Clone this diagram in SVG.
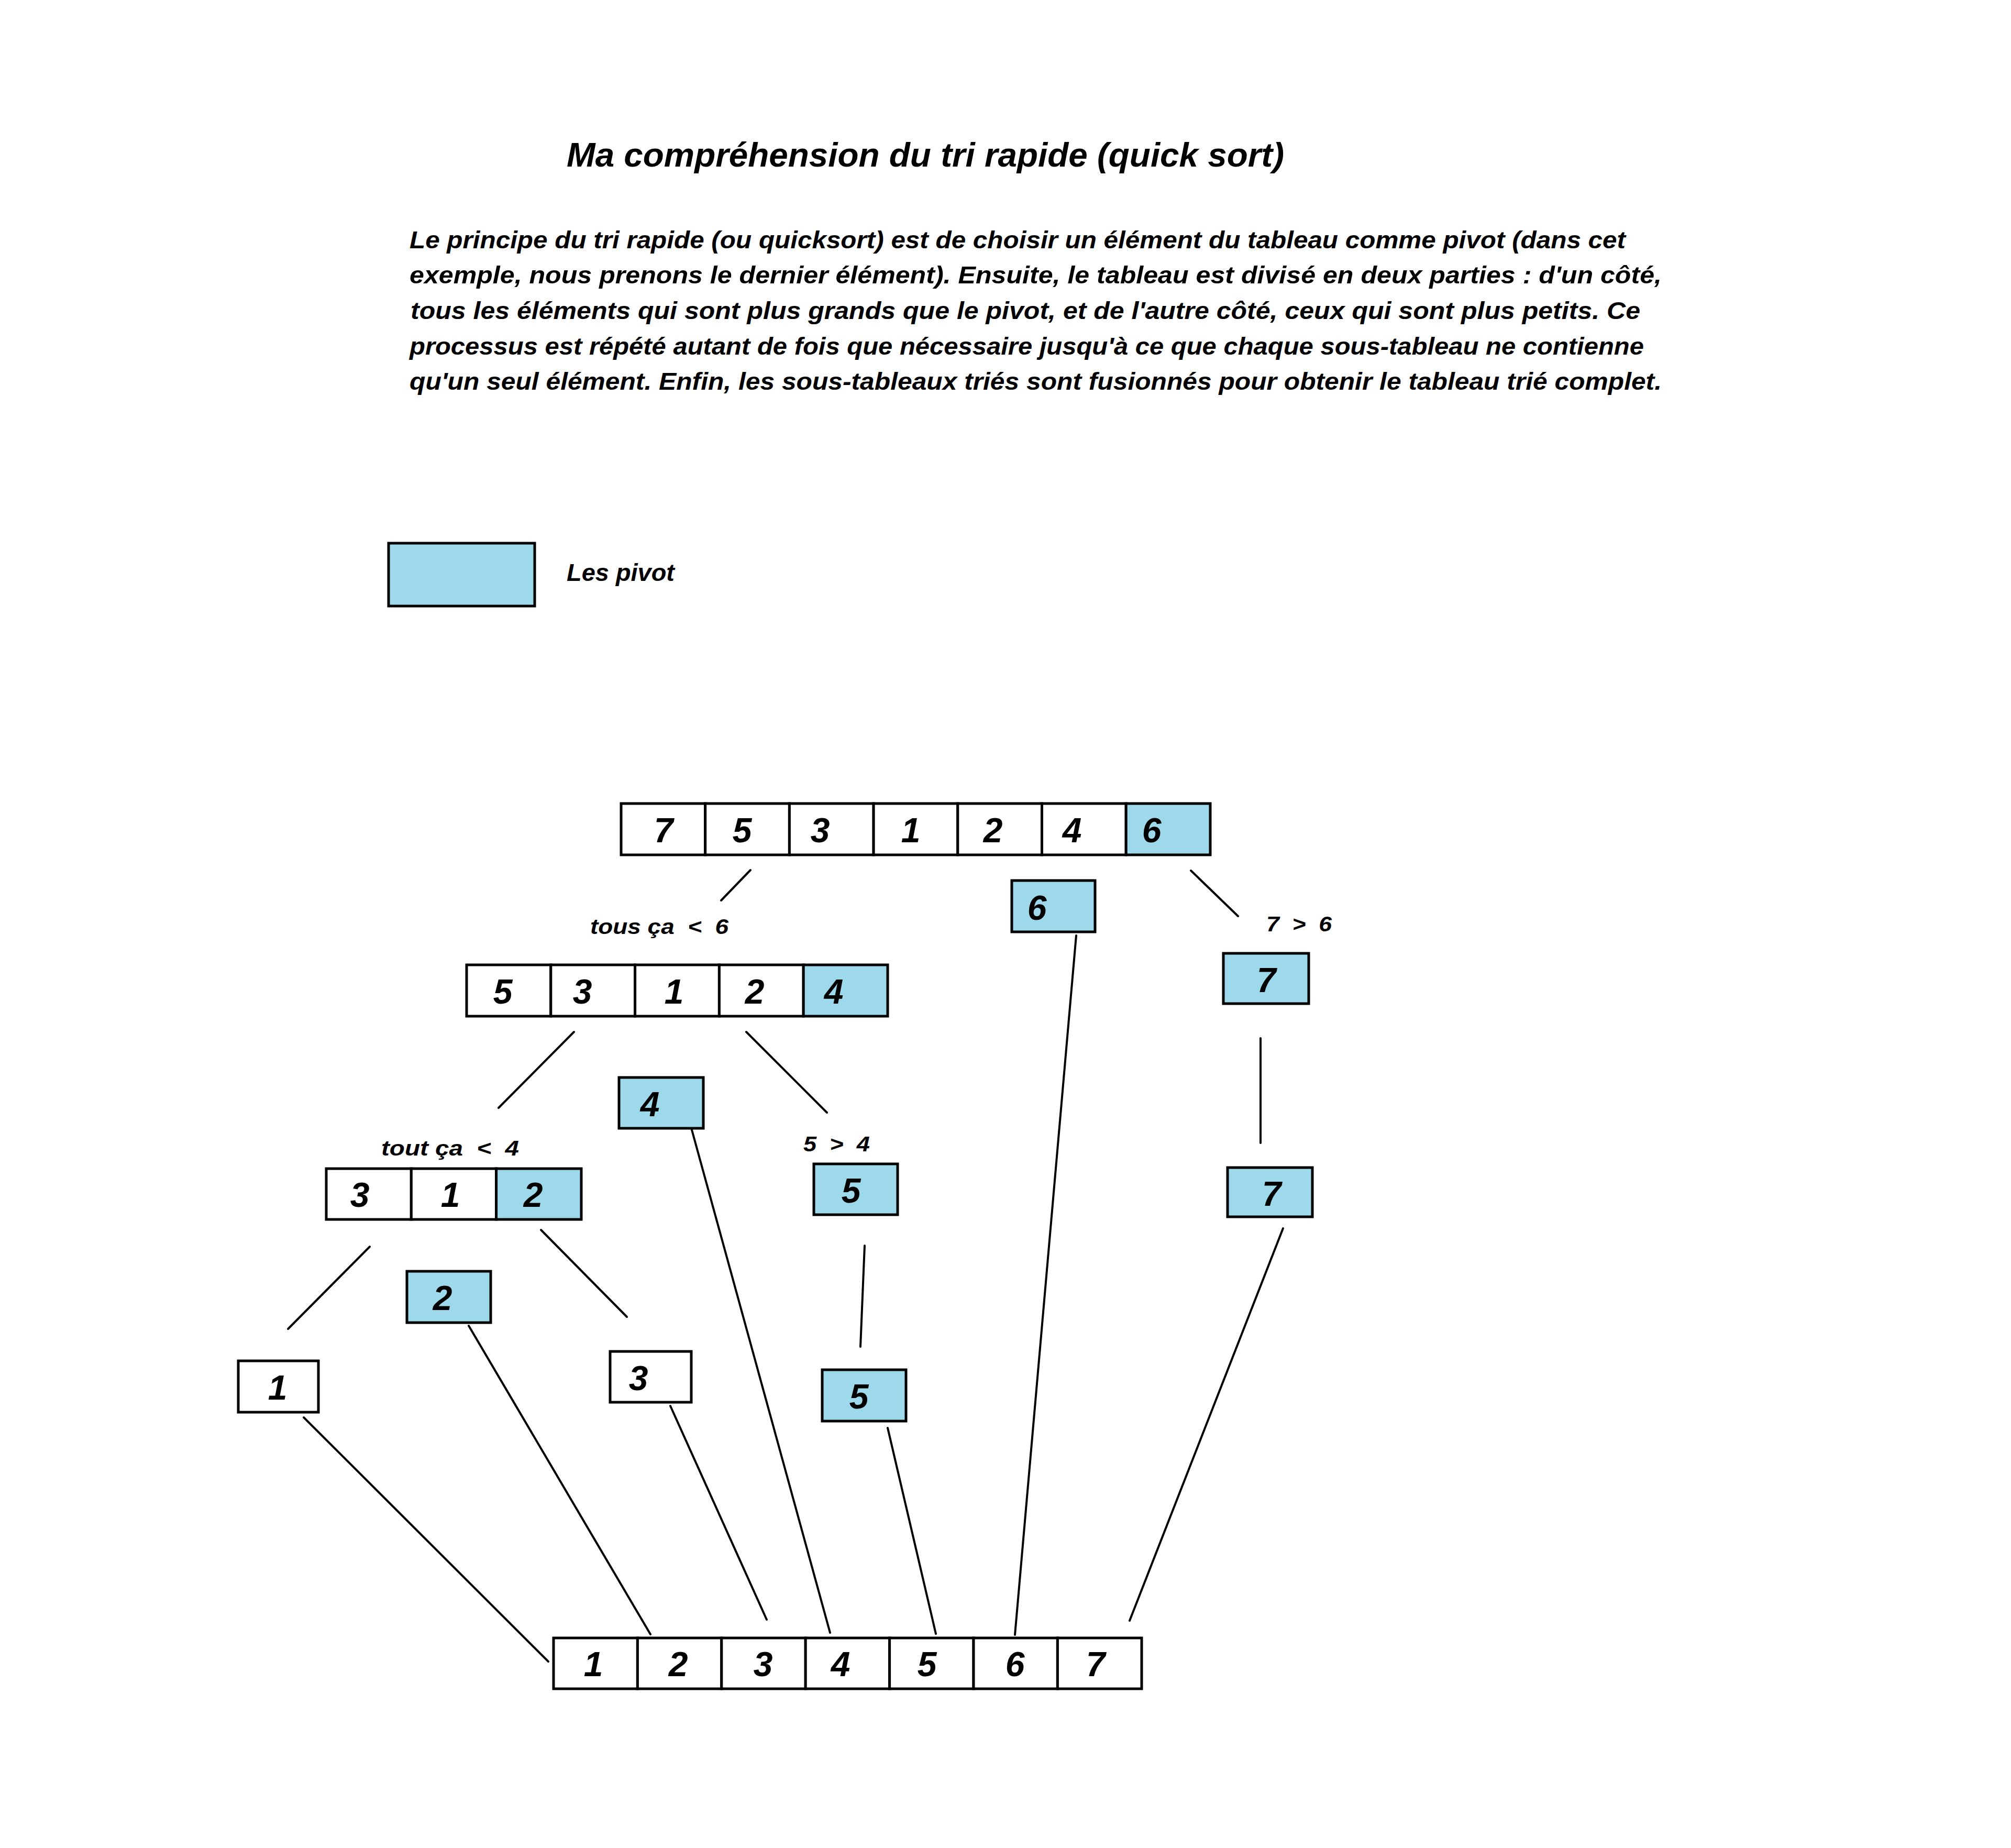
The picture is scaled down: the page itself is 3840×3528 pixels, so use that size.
<svg xmlns="http://www.w3.org/2000/svg" width="3840" height="3528" viewBox="0 0 3840 3528">
<style>
.bg{fill:#ffffff}
.cell{fill:#ffffff;stroke:#000000;stroke-width:5}
.piv{fill:#9DD9EA;stroke:#000000;stroke-width:5}
.t{font-family:"Comic Sans MS","Liberation Sans",sans-serif;font-weight:bold;font-style:italic;fill:#000000}
.num{font-size:66px;text-anchor:middle}
.title{font-size:64px}
.para{font-size:46px}
.lbl{font-size:40px;white-space:pre}
#connectors line{stroke:#000000;stroke-width:4;stroke-linecap:round}
</style>
<rect class="bg" x="0" y="0" width="3840" height="3528"/>
<text class="t title" x="1082" y="318" textLength="1370" lengthAdjust="spacingAndGlyphs">Ma compréhension du tri rapide (quick sort)</text>
<g id="description">
<text class="t para" x="782" y="474" textLength="2322" lengthAdjust="spacingAndGlyphs">Le principe du tri rapide (ou quicksort) est de choisir un élément du tableau comme pivot (dans cet</text>
<text class="t para" x="782" y="541" textLength="2391" lengthAdjust="spacingAndGlyphs">exemple, nous prenons le dernier élément). Ensuite, le tableau est divisé en deux parties : d'un côté,</text>
<text class="t para" x="784" y="609" textLength="2348" lengthAdjust="spacingAndGlyphs">tous les éléments qui sont plus grands que le pivot, et de l'autre côté, ceux qui sont plus petits. Ce</text>
<text class="t para" x="782" y="677" textLength="2357" lengthAdjust="spacingAndGlyphs">processus est répété autant de fois que nécessaire jusqu'à ce que chaque sous-tableau ne contienne</text>
<text class="t para" x="782" y="744" textLength="2391" lengthAdjust="spacingAndGlyphs">qu'un seul élément. Enfin, les sous-tableaux triés sont fusionnés pour obtenir le tableau trié complet.</text>
</g>
<g id="legend">
<rect class="piv" x="742" y="1037" width="279" height="120"/>
<text class="t para" x="1082" y="1109" textLength="206" lengthAdjust="spacingAndGlyphs">Les pivot</text>
</g>
<g id="connectors">
<line x1="1433" y1="1661" x2="1377" y2="1719"/>
<line x1="2274" y1="1662" x2="2364" y2="1749"/>
<line x1="2055" y1="1786" x2="1938" y2="3121"/>
<line x1="2407" y1="1982" x2="2407" y2="2182"/>
<line x1="2450" y1="2345" x2="2157" y2="3094"/>
<line x1="1096" y1="1970" x2="952" y2="2115"/>
<line x1="1425" y1="1970" x2="1579" y2="2124"/>
<line x1="1321" y1="2157" x2="1585" y2="3117"/>
<line x1="1651" y1="2378" x2="1643" y2="2571"/>
<line x1="1695" y1="2726" x2="1787" y2="3119"/>
<line x1="706" y1="2380" x2="550" y2="2537"/>
<line x1="1033" y1="2348" x2="1197" y2="2514"/>
<line x1="895" y1="2531" x2="1242" y2="3120"/>
<line x1="580" y1="2706" x2="1047" y2="3172"/>
<line x1="1280" y1="2684" x2="1464" y2="3092"/>
</g>
<g id="labels">
<text class="t lbl" x="1127" y="1783" textLength="264" lengthAdjust="spacingAndGlyphs">tous ça  &lt;  6</text>
<text class="t lbl" x="2418" y="1778" textLength="125" lengthAdjust="spacingAndGlyphs">7  &gt;  6</text>
<text class="t lbl" x="728" y="2206" textLength="263" lengthAdjust="spacingAndGlyphs">tout ça  &lt;  4</text>
<text class="t lbl" x="1534" y="2198" textLength="127" lengthAdjust="spacingAndGlyphs">5  &gt;  4</text>
</g>
<g id="array-initial">
<rect class="cell" x="1186" y="1534" width="160.7" height="98"/>
<rect class="cell" x="1346.7" y="1534" width="160.7" height="98"/>
<rect class="cell" x="1507.4" y="1534" width="160.7" height="98"/>
<rect class="cell" x="1668.1" y="1534" width="160.7" height="98"/>
<rect class="cell" x="1828.8" y="1534" width="160.7" height="98"/>
<rect class="cell" x="1989.5" y="1534" width="160.7" height="98"/>
<rect class="piv" x="2150.2" y="1534" width="160.8" height="98"/>
<text class="t num" x="1267" y="1608">7</text>
<text class="t num" x="1417" y="1608">5</text>
<text class="t num" x="1566" y="1608">3</text>
<text class="t num" x="1739" y="1608">1</text>
<text class="t num" x="1896" y="1608">2</text>
<text class="t num" x="2047" y="1608">4</text>
<text class="t num" x="2199" y="1608">6</text>
</g>
<g id="array-less-6">
<rect class="cell" x="891" y="1842" width="160.8" height="98"/>
<rect class="cell" x="1051.8" y="1842" width="160.8" height="98"/>
<rect class="cell" x="1212.6" y="1842" width="160.8" height="98"/>
<rect class="cell" x="1373.4" y="1842" width="160.8" height="98"/>
<rect class="piv" x="1534.2" y="1842" width="160.8" height="98"/>
<text class="t num" x="960" y="1916">5</text>
<text class="t num" x="1112" y="1916">3</text>
<text class="t num" x="1287" y="1916">1</text>
<text class="t num" x="1441" y="1916">2</text>
<text class="t num" x="1592" y="1916">4</text>
</g>
<g id="array-less-4">
<rect class="cell" x="623" y="2231" width="162.3" height="97"/>
<rect class="cell" x="785.3" y="2231" width="162.3" height="97"/>
<rect class="piv" x="947.6" y="2231" width="162.4" height="97"/>
<text class="t num" x="687" y="2304">3</text>
<text class="t num" x="860" y="2304">1</text>
<text class="t num" x="1018" y="2304">2</text>
</g>
<g id="pivot-6">
<rect class="piv" x="1932" y="1681" width="159" height="98"/>
<text class="t num" x="1980" y="1756">6</text>
</g>
<g id="box-7-upper">
<rect class="piv" x="2336" y="1820" width="163" height="96"/>
<text class="t num" x="2418" y="1894">7</text>
</g>
<g id="box-7-lower">
<rect class="piv" x="2344" y="2229" width="162" height="94"/>
<text class="t num" x="2428" y="2302">7</text>
</g>
<g id="pivot-4">
<rect class="piv" x="1182" y="2057" width="161" height="97"/>
<text class="t num" x="1241" y="2131">4</text>
</g>
<g id="box-5-upper">
<rect class="piv" x="1554" y="2222" width="160" height="97"/>
<text class="t num" x="1625" y="2296">5</text>
</g>
<g id="box-5-lower">
<rect class="piv" x="1570" y="2615" width="160" height="98"/>
<text class="t num" x="1640" y="2689">5</text>
</g>
<g id="pivot-2">
<rect class="piv" x="777" y="2427" width="160" height="98"/>
<text class="t num" x="845" y="2501">2</text>
</g>
<g id="box-1">
<rect class="cell" x="455" y="2598" width="153" height="98"/>
<text class="t num" x="530" y="2672">1</text>
</g>
<g id="box-3">
<rect class="cell" x="1165" y="2580" width="155" height="97"/>
<text class="t num" x="1219" y="2654">3</text>
</g>
<g id="array-sorted">
<rect class="cell" x="1057" y="3127" width="160.4" height="97"/>
<rect class="cell" x="1217.4" y="3127" width="160.4" height="97"/>
<rect class="cell" x="1377.8" y="3127" width="160.4" height="97"/>
<rect class="cell" x="1538.2" y="3127" width="160.4" height="97"/>
<rect class="cell" x="1698.6" y="3127" width="160.4" height="97"/>
<rect class="cell" x="1859" y="3127" width="160.4" height="97"/>
<rect class="cell" x="2019.4" y="3127" width="160.6" height="97"/>
<text class="t num" x="1133" y="3200">1</text>
<text class="t num" x="1295" y="3200">2</text>
<text class="t num" x="1457" y="3200">3</text>
<text class="t num" x="1605" y="3200">4</text>
<text class="t num" x="1770" y="3200">5</text>
<text class="t num" x="1938" y="3200">6</text>
<text class="t num" x="2092" y="3200">7</text>
</g>
</svg>
